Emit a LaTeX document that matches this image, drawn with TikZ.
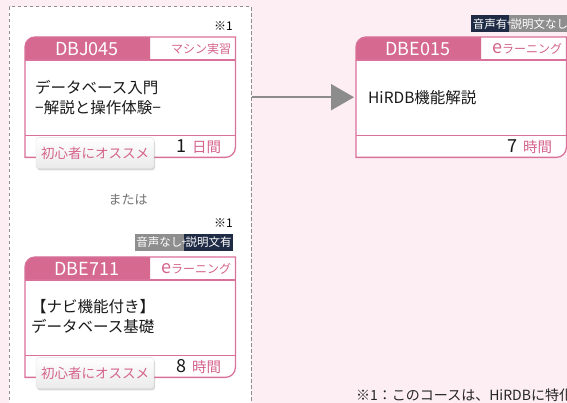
\documentclass[tikz,border=0pt]{standalone}
\usepackage{fontspec}
\setmainfont{Noto Sans CJK JP}
\usetikzlibrary{positioning,calc,arrows.meta,shadows}

\definecolor{bgpink}{HTML}{FCEEF3}
\definecolor{hdpink}{HTML}{D5698F}
\definecolor{linepink}{HTML}{D9719A}
\definecolor{textpink}{HTML}{D5638C}
\definecolor{tagnavy}{HTML}{1F2B45}
\definecolor{taggray}{HTML}{8E8E8E}
\definecolor{arrowgray}{HTML}{8C8C8C}
\definecolor{dashgray}{HTML}{8E8E8E}

\tikzset{
  groupbox/.style={draw=dashgray, fill=white, line width=1.5pt, dash pattern=on 3.5pt off 2.5pt,
    minimum width=242pt, minimum height=410pt, anchor=north west, inner sep=0pt},
  cardbox/.style={minimum width=210pt, minimum height=120pt, inner sep=0pt},
  cardline/.style={draw=linepink, line width=1.3pt},
  cardshape/.style={insert path={(#1.south west) -- ([yshift=-10pt]#1.north west)
    arc[start angle=180, end angle=90, radius=10pt] -- (#1.north east)
    -- ([yshift=10pt]#1.south east) arc[start angle=0, end angle=-90, radius=10pt] -- cycle}},
  codetext/.style={inner sep=0pt, text=white, font=\fontsize{18}{18}\selectfont},
  kindtext/.style={inner sep=0pt, anchor=east, text=textpink, font=\fontsize{12}{12}\selectfont},
  bodytext/.style={inner sep=0pt, anchor=west, align=left, text=black!90, font=\fontsize{15.5}{20}\selectfont},
  durtext/.style={inner sep=0pt, anchor=east, text=black!90, font=\fontsize{18}{18}\selectfont},
  badge/.style={minimum width=118pt, minimum height=31pt, inner sep=0pt, rounded corners=3pt,
    draw=gray!25, top color=white, bottom color=gray!16, text=textpink,
    font=\fontsize{13.5}{13.5}\selectfont, drop shadow={opacity=0.3, shadow xshift=1pt, shadow yshift=-2pt}},
  tagbox/.style={minimum height=17pt, inner xsep=1.5pt, inner ysep=0pt, text=white,
    font=\fontsize{11.5}{11.5}\selectfont},
  plustext/.style={inner sep=0pt, text=white, font=\fontsize{9}{9}\selectfont},
  notetext/.style={inner sep=0pt, font=\fontsize{12}{12}\selectfont},
  flowarrow/.style={draw=arrowgray, line width=2pt, -{Triangle[length=23pt, width=26pt]}, shorten >=2pt}
}

% one course card: name, north west corner, code, kind, duration
\newcommand{\coursecard}[5]{%
  \node[cardbox, anchor=north west] (#1) at (#2) {};
  \fill[white, cardshape=#1];
  \fill[hdpink] ([yshift=-23pt]#1.north west) -- ([yshift=-10pt]#1.north west)
    arc[start angle=180, end angle=90, radius=10pt] -- ([xshift=125pt]#1.north west)
    -- ([xshift=125pt, yshift=-23pt]#1.north west) -- cycle;
  \draw[cardline] ([yshift=-23pt]#1.north west) -- ([yshift=-23pt]#1.north east);
  \draw[cardline] ([yshift=22pt]#1.south west) -- ([yshift=22pt]#1.south east);
  \draw[cardline, cardshape=#1];
  \node[codetext] (#1-code) at ($(#1.north west)+(62pt,-12pt)$) {#3};
  \node[kindtext] (#1-kind) at ($(#1.north east)+(-4pt,-12pt)$) {#4};
  \node[durtext] (#1-dur) at ($(#1.south east)+(-14pt,11pt)$) {#5};
}

\newcommand{\elearn}{{\fontsize{18}{12}\selectfont e}ラーニング}
\newcommand{\dur}[2]{#1\hspace{6pt}{\fontsize{14.5}{14.5}\selectfont\color{textpink}#2}}

\begin{document}
\begin{tikzpicture}[x=1pt, y=1pt]
  \useasboundingbox (0,0) rectangle (567,403);
  \fill[bgpink] (0,0) rectangle (567,403);

  % group of the two alternatives
  \node[groupbox] (grp) at (8.5,397) {};

  % DBJ045
  \coursecard{dbj045}{25,366}{DBJ045}{マシン実習}{\dur{1}{日間}}
  \node[bodytext] (dbj045-title) at ($(dbj045.north west)+(10pt,-61pt)$) {データベース入門\\−解説と操作体験−};
  \node[badge] (dbj045-badge) at ($(dbj045.south west)+(70pt,4.5pt)$) {初心者にオススメ};
  \node[notetext, anchor=east] (dbj045-note) at (233,377) {※1};

  \node[notetext, text=black!55, font=\fontsize{13}{13}\selectfont] (or) at (128,203) {または};

  % DBE711
  \coursecard{dbe711}{25,146}{DBE711}{\elearn}{\dur{8}{時間}}
  \node[bodytext] (dbe711-title) at ($(dbe711.north west)+(6pt,-60pt)$) {【ナビ機能付き】\\データベース基礎};
  \node[badge] (dbe711-badge) at ($(dbe711.south west)+(70pt,4.5pt)$) {初心者にオススメ};
  \node[notetext, anchor=east] (dbe711-note) at (233,180) {※1};
  \node[tagbox, fill=taggray, anchor=east] (dbe711-voice) at (184,160.5) {音声なし};
  \node[tagbox, fill=tagnavy, right=0pt of dbe711-voice] (dbe711-text) {説明文有};
  \node[plustext] (dbe711-plus) at (dbe711-voice.east) {+};

  % DBE015
  \coursecard{dbe015}{356,366}{DBE015}{\elearn}{\dur{7}{時間}}
  \node[bodytext] (dbe015-title) at ($(dbe015.north west)+(12pt,-61pt)$) {HiRDB機能解説};
  \node[tagbox, fill=tagnavy, anchor=east] (dbe015-voice) at (509,379) {音声有};
  \node[tagbox, fill=taggray, right=0pt of dbe015-voice] (dbe015-text) {説明文なし};
  \node[plustext] (dbe015-plus) at (dbe015-voice.east) {+};

  \draw[flowarrow] (grp.east |- dbe015.west) -- (dbe015.west);

  \node[notetext, anchor=west, text=black!85, font=\fontsize{14}{14}\selectfont] (footnote) at (356,8) {※1：このコースは、HiRDBに特化};
\end{tikzpicture}
\end{document}
